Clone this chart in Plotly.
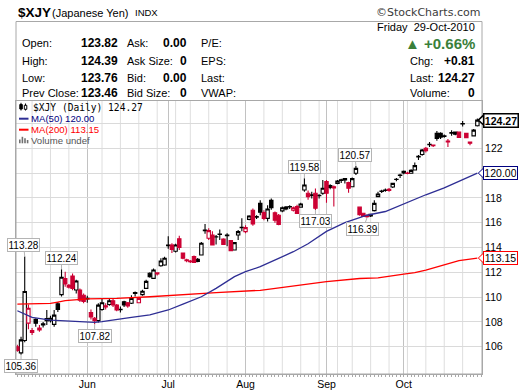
import plotly.graph_objects as go
import pandas as pd

# ---------------- data ----------------
HOLIDAYS = ["2010-05-31", "2010-07-05", "2010-09-06"]
DATES = [d.strftime("%Y-%m-%d") for d in pd.bdate_range("2010-05-04", "2010-10-29")
         if d.strftime("%Y-%m-%d") not in HOLIDAYS]

OPEN = [106.00, 105.50, 106.50, 107.90, 107.30, 108.20, 107.50, 107.75, 108.10, 108.10,
        107.80, 109.45, 110.20, 111.50, 110.80, 111.70, 110.57, 110.57, 110.15, 109.85,
        108.75, 108.30, 108.10, 109.00, 109.30, 109.40, 109.70, 109.36, 108.98, 109.63,
        109.55, 109.50, 110.30, 109.55, 110.20, 110.70, 111.92, 111.51, 111.95, 112.53,
        112.59, 114.15, 114.20, 113.70, 114.70, 113.55, 113.00, 112.90, 113.26, 112.88,
        113.40, 115.35, 114.74, 115.00, 114.85, 115.05, 114.68, 114.95, 114.55, 113.80,
        115.01, 115.60, 115.28, 116.27, 117.00, 116.45, 117.56, 116.81, 116.35, 117.80,
        116.80, 116.60, 116.95, 117.10, 117.30, 117.00, 117.30, 117.25, 118.64, 118.37,
        118.20, 118.37, 118.17, 118.37, 119.31, 119.00, 118.90, 119.17, 119.45, 119.55,
        119.23, 118.90, 119.98, 117.25, 116.76, 116.60, 116.67, 116.97, 118.10, 118.52,
        118.60, 118.70, 118.88, 119.48, 119.80, 120.15, 120.00, 119.98, 120.25, 121.30,
        121.50, 122.00, 122.28, 122.25, 123.20, 123.20, 122.95, 122.58, 123.22, 123.13,
        123.30, 123.95, 123.20, 122.50, 123.00, 123.82]
HIGH = [106.15, 106.80, 113.28, 109.40, 107.50, 108.30, 107.75, 108.00, 108.96, 108.50,
        108.96, 109.60, 112.24, 112.05, 111.05, 111.90, 111.40, 110.70, 110.30, 110.10,
        109.00, 108.40, 109.50, 109.90, 109.50, 109.85, 109.90, 109.45, 109.25, 109.70,
        109.60, 110.15, 110.45, 110.00, 110.60, 111.40, 112.00, 112.30, 112.00, 113.13,
        113.26, 114.90, 114.35, 114.30, 114.95, 113.60, 113.10, 113.00, 113.35, 113.15,
        114.45, 115.90, 115.55, 115.30, 115.00, 115.45, 114.75, 115.15, 114.60, 114.45,
        115.40, 116.35, 115.80, 116.60, 117.15, 116.60, 117.80, 117.00, 117.40, 117.95,
        116.90, 116.70, 117.30, 117.35, 117.40, 117.30, 117.45, 117.60, 119.58, 118.60,
        118.50, 118.75, 118.30, 119.45, 119.45, 119.10, 119.00, 119.45, 119.55, 119.60,
        119.30, 119.65, 120.57, 117.30, 116.80, 116.65, 116.70, 117.80, 118.50, 118.65,
        118.75, 118.80, 119.20, 119.60, 119.95, 120.20, 120.10, 120.30, 120.85, 121.45,
        121.95, 122.10, 122.50, 122.30, 123.40, 123.30, 123.10, 122.75, 123.45, 123.35,
        123.35, 124.20, 123.25, 122.55, 123.55, 124.39]
LOW = [105.60, 105.36, 106.35, 107.40, 106.95, 107.60, 107.20, 107.55, 107.75, 107.95,
       107.60, 108.80, 110.05, 110.84, 110.70, 110.55, 110.30, 109.60, 109.50, 109.55,
       108.20, 107.82, 107.95, 108.90, 109.00, 109.30, 109.20, 108.85, 108.75, 109.20,
       109.15, 109.45, 110.05, 109.50, 110.10, 110.65, 111.55, 111.45, 111.75, 112.45,
       112.53, 113.90, 113.55, 113.60, 113.80, 113.05, 112.80, 112.75, 112.75, 112.80,
       113.35, 115.10, 114.60, 114.15, 114.25, 114.60, 114.20, 114.10, 113.70, 113.75,
       114.60, 115.30, 115.15, 116.20, 115.75, 116.30, 116.60, 116.20, 116.10, 117.05,
       116.00, 115.80, 116.85, 117.00, 117.10, 116.90, 116.70, 117.20, 118.50, 117.85,
       117.95, 117.03, 117.95, 118.25, 117.60, 118.70, 117.30, 119.10, 119.20, 119.15,
       118.42, 118.85, 119.85, 116.55, 116.45, 116.39, 116.45, 116.90, 118.05, 118.40,
       118.50, 118.50, 118.80, 119.35, 119.60, 119.90, 119.90, 119.95, 120.20, 121.05,
       121.40, 121.65, 122.10, 122.10, 122.60, 122.75, 122.85, 122.10, 123.00, 123.05,
       122.85, 123.75, 122.80, 122.25, 122.95, 123.76]
CLOSE = [105.70, 106.55, 110.45, 109.10, 107.15, 107.90, 107.35, 107.85, 108.28, 108.30,
         108.55, 109.00, 111.60, 111.05, 110.95, 110.70, 111.30, 109.76, 109.65, 109.90,
         108.40, 108.10, 109.35, 109.55, 109.20, 109.70, 109.36, 108.96, 109.02, 109.36,
         109.28, 109.90, 110.36, 109.90, 110.47, 111.27, 111.65, 112.19, 111.86, 112.91,
         113.13, 114.20, 113.85, 114.20, 114.00, 113.13, 112.94, 112.86, 112.80, 113.05,
         114.34, 115.41, 115.36, 114.20, 114.87, 115.09, 114.25, 115.00, 113.74, 114.39,
         115.28, 115.63, 115.60, 116.54, 115.90, 116.49, 116.85, 116.35, 117.10, 117.20,
         116.20, 115.85, 117.20, 117.25, 117.26, 117.20, 116.75, 117.50, 119.04, 118.10,
         118.25, 117.17, 118.20, 118.77, 118.37, 118.85, 118.80, 119.36, 119.40, 119.45,
         118.77, 119.55, 120.38, 116.65, 116.50, 116.48, 116.55, 117.56, 118.31, 118.56,
         118.64, 118.60, 119.17, 119.50, 119.83, 120.00, 119.97, 120.22, 120.60, 121.35,
         121.86, 121.80, 122.32, 122.20, 122.80, 122.90, 123.00, 122.50, 123.26, 123.30,
         122.88, 124.00, 122.85, 122.40, 123.46, 124.27]

# moving averages at sample trading days (index into DATES)
MA50_IDX = [0, 4, 9, 13, 17, 21, 23, 27, 31, 36, 41, 45, 50, 54, 59, 62, 66, 71, 75, 79,
            84, 89, 95, 100, 104, 111, 116, 120, 125]
MA50_VAL = [108.90, 108.37, 108.15, 108.10, 108.02, 107.96, 108.02, 108.21, 108.37, 108.56,
            108.96, 109.44, 110.03, 110.70, 111.65, 112.05, 112.45, 113.12, 113.66, 114.30,
            115.30, 116.00, 116.60, 116.90, 117.40, 118.25, 118.80, 119.35, 120.00]
MA200_IDX = [0, 9, 11, 13, 19, 27, 36, 45, 54, 66, 75, 84, 93, 98, 105, 108, 111, 116, 120, 125]
MA200_VAL = [109.44, 109.50, 109.60, 109.71, 109.85, 109.90, 110.03, 110.22, 110.36, 110.55,
             110.89, 111.24, 111.50, 111.55, 111.86, 111.97, 112.18, 112.59, 112.94, 113.15]

# price labels: (trading-day index, "high"/"low")
MARKED = [(2, "high"), (1, "low"), (12, "high"), (21, "low"),
          (78, "high"), (81, "low"), (92, "high"), (95, "low")]
MARK_SHIFT = [-1, 0, 0, 0, 0, 0, -1, -4]

Y_TICKS = [106, 108, 110, 112, 114, 116, 118, 120, 122, 124]

HEADER_LEFT = [("Open:", "123.82", "Ask:", "0.00", "P/E:"),
               ("High:", "124.39", "Ask Size:", "0", "EPS:"),
               ("Low:", "123.76", "Bid:", "0.00", "Last:"),
               ("Prev Close:", "123.46", "Bid Size:", "0", "VWAP:")]
HEADER_RIGHT = [("Chg:", "+0.81"), ("Last:", "124.27"), ("Volume:", "0")]
PCT_CHANGE = "+0.66%"
DATE_TEXT = "Friday\u00a0\u00a029-Oct-2010"

# ---------------- geometry helpers ----------------
W, H = 520, 391
L, R, T, B = 16, 482, 101, 374
XMIN, XMAX = -0.37, 126.26
YMIN, YMAX = 103.8, 125.81
FONT = "Liberation Sans, Arial, sans-serif"
RED = "#CC0033"
BLUE = "#2E2E94"


def px(x):
    return (x - L) / (R - L)


def py(y):
    return (B - y) / (B - T)


def vy(v):
    return (v - YMIN) / (YMAX - YMIN)


n = len(DATES)
X = list(range(n))

# month starts and week starts derived from the dates
dts = pd.to_datetime(DATES)
MONTH_IDX = [j for j in range(1, n) if dts[j].month != dts[j - 1].month]
MONTH_LBL = [dts[j].strftime("%b") for j in MONTH_IDX]
WEEK_IDX = [j for j in range(1, n) if dts[j].weekday() < dts[j - 1].weekday()
            and j not in MONTH_IDX]

# split candles: black if close >= previous close, else red
groups = {"k": {"x": [], "o": [], "h": [], "l": [], "c": []},
          "r": {"x": [], "o": [], "h": [], "l": [], "c": []}}
for j in range(n):
    key = "k" if (j > 0 and CLOSE[j] >= CLOSE[j - 1]) else "r"
    g = groups[key]
    g["x"].append(X[j]); g["o"].append(OPEN[j]); g["h"].append(HIGH[j])
    g["l"].append(LOW[j]); g["c"].append(CLOSE[j])

fig = go.Figure()
fig.add_trace(go.Scatter(x=MA200_IDX, y=MA200_VAL, mode="lines",
                         line=dict(color="#FF0000", width=1.3), hoverinfo="skip"))
fig.add_trace(go.Scatter(x=MA50_IDX, y=MA50_VAL, mode="lines",
                         line=dict(color=BLUE, width=1.3), hoverinfo="skip"))
for key, col in (("k", "#000000"), ("r", RED)):
    g = groups[key]
    fig.add_trace(go.Candlestick(
        x=g["x"], open=g["o"], high=g["h"], low=g["l"], close=g["c"],
        increasing=dict(line=dict(color=col, width=1.1), fillcolor="#FFFFFF"),
        decreasing=dict(line=dict(color=col, width=1.1), fillcolor=col),
        whiskerwidth=0, hoverinfo="none"))

shapes = []
# weekly light gridlines
for j in WEEK_IDX:
    shapes.append(dict(type="line", xref="x", yref="paper", x0=j, x1=j, y0=0, y1=1,
                       line=dict(color="#DEDEDE", width=1), layer="below"))
# header box
shapes.append(dict(type="rect", xref="paper", yref="paper", x0=px(L), x1=px(R),
                   y0=py(B), y1=py(21.5), line=dict(color="#A8A8A8", width=1)))
# legend icons
shapes.append(dict(type="line", xref="paper", yref="paper", x0=px(19), x1=px(28.5),
                   y0=py(118.7), y1=py(118.7), line=dict(color=BLUE, width=2)))
shapes.append(dict(type="line", xref="paper", yref="paper", x0=px(19), x1=px(28.5),
                   y0=py(129.7), y1=py(129.7), line=dict(color="#FF0000", width=2)))
for (x0, x1, ytop) in ((19, 20.6, 139.5), (21.6, 23.2, 136.8), (24.2, 25.8, 138.2), (26.8, 28.4, 140)):
    shapes.append(dict(type="rect", xref="paper", yref="paper", x0=px(x0), x1=px(x1),
                       y0=py(143.3), y1=py(ytop), line=dict(width=0), fillcolor="#707070"))
shapes.append(dict(type="line", xref="paper", yref="paper", x0=px(21), x1=px(21),
                   y0=py(110.5), y1=py(102.8), line=dict(color="black", width=1)))
shapes.append(dict(type="rect", xref="paper", yref="paper", x0=px(19.8), x1=px(22.3),
                   y0=py(109), y1=py(104.5), line=dict(color="black", width=1), fillcolor="black"))
shapes.append(dict(type="line", xref="paper", yref="paper", x0=px(25.5), x1=px(25.5),
                   y0=py(110.5), y1=py(103.5), line=dict(color="black", width=1)))
shapes.append(dict(type="rect", xref="paper", yref="paper", x0=px(24.3), x1=px(26.8),
                   y0=py(109.3), y1=py(105.3), line=dict(color="black", width=1), fillcolor="white"))

ann = []


def txt(x, y, s, anchor="left", size=11, bold=False, color="black", family=FONT):
    ann.append(dict(xref="paper", yref="paper", x=px(x), y=py(y), xanchor=anchor,
                    yanchor="middle", text=(f"<b>{s}</b>" if bold else s), showarrow=False,
                    font=dict(size=size, color=color, family=family)))


# title row
txt(16, 12.5, "<b>$XJY</b>", size=13.5)
txt(49.5, 12.8, "(Japanese Yen)", size=11)
txt(132.5, 12.8, "INDX", size=9.5)
txt(482, 12.5, "\u00a9StockCharts.com", anchor="right", size=11, color="#3C3C3C",
    family="DejaVu Sans, sans-serif")

# header block
rows_y = [43.3, 61.0, 78.3, 93.0]
for (lab, val, lab2, val2, lab3), yy in zip(HEADER_LEFT, rows_y):
    txt(19.5, yy, lab, size=11)
    txt(119.5, yy, val, anchor="right", size=12, bold=True)
    txt(124.5, yy, lab2, size=11)
    txt(189, yy, val2, anchor="right", size=12, bold=True)
    txt(198.5, yy, lab3, size=11)
for (lab, val), yy in zip(HEADER_RIGHT, rows_y[1:]):
    txt(407.5, yy, lab, size=11)
    txt(476.5, yy, val, anchor="right", size=12, bold=True)
txt(476.5, 27.3, DATE_TEXT, anchor="right", size=11)
txt(476.5, 43.3, "\u25b2 " + PCT_CHANGE, anchor="right", size=15, bold=True, color="#3A7F3A")

# chart legend
txt(31, 107.2, f"$XJY (Daily) {CLOSE[-1]:.2f}", size=9.6, family="DejaVu Sans Mono, monospace")
txt(29.3, 118.9, f"MA(50) {MA50_VAL[-1]:.2f}", size=9.6, color="#000080")
txt(29.3, 129.9, f"MA(200) {MA200_VAL[-1]:.2f}", size=9.6, color="#FF0000")
txt(29.3, 140.6, "Volume undef", size=9.6, color="#555555")

# high / low price labels
for (j, kind), sh in zip(MARKED, MARK_SHIFT):
    v = HIGH[j] if kind == "high" else LOW[j]
    ann.append(dict(xref="x", yref="y", x=X[j], y=v, text=f"{v:.2f}", showarrow=True,
                    arrowhead=0, arrowwidth=1, arrowcolor="#B4B4B4", ax=sh,
                    ay=(-11 if kind == "high" else 11.5), bordercolor="#B4B4B4",
                    borderwidth=1, borderpad=0.5, bgcolor="white",
                    font=dict(size=10, color="black", family=FONT)))

# right-hand value tags
TAGS = [(CLOSE[-1], "#000000", True, 1.5),
        (MA50_VAL[-1], "#000080", False, 1),
        (MA200_VAL[-1], "#FF0000", False, 1)]
for v, col, bold, bw in TAGS:
    d = 5.0 / (B - T) * (YMAX - YMIN)
    ann.append(dict(xref="paper", yref="y", x=px(482.8), y=v, xanchor="left", yanchor="middle",
                    text=(f"<b>{v:.2f}</b>" if bold else f"{v:.2f}"), showarrow=False,
                    width=32, height=11, align="center",
                    bordercolor=col, borderwidth=bw, borderpad=0.5, bgcolor="white",
                    font=dict(size=10.5, color="black", family=FONT)))
    shapes.append(dict(type="path", xref="paper", yref="paper",
                       path=f"M {px(478.3)},{vy(v)} L {px(483.6)},{vy(v + d)} L {px(483.6)},{vy(v - d)} Z",
                       line=dict(color=col, width=bw), fillcolor="white"))

# tick labels hidden where a value tag sits on top of them
tag_vals = [t[0] for t in TAGS]
Y_TEXT = ["" if any(abs(t - v) < 0.6 for v in tag_vals) else str(t) for t in Y_TICKS]

fig.update_layout(
    width=W, height=H,
    margin=dict(l=L, r=W - R, t=T, b=H - B, pad=0, autoexpand=False),
    paper_bgcolor="white", plot_bgcolor="white",
    showlegend=False, hovermode=False,
    boxgap=0.08, boxgroupgap=0,
    font=dict(family=FONT, size=10, color="black"),
    shapes=shapes, annotations=ann,
    xaxis=dict(range=[XMIN, XMAX], tickmode="array", tickvals=MONTH_IDX, ticktext=MONTH_LBL,
               showgrid=True, gridcolor="#C2C2C2", gridwidth=1, zeroline=False,
               showline=True, mirror=True, linecolor="#A8A8A8", linewidth=1,
               ticks="", ticklen=0, tickfont=dict(size=10.5, family=FONT), automargin=False,
               minor=dict(dtick=1, tick0=0, ticks="outside", ticklen=2, tickcolor="#A8A8A8",
                          showgrid=False),
               rangeslider=dict(visible=False), fixedrange=True),
    yaxis=dict(range=[YMIN, YMAX], side="right", tickmode="array", tickvals=Y_TICKS,
               ticktext=Y_TEXT, showgrid=True, gridcolor="#DADADA",
               zeroline=False, showline=True, mirror=True, linecolor="#A8A8A8", linewidth=1,
               ticks="", ticklen=0, tickfont=dict(size=10.5, family=FONT), automargin=False,
               fixedrange=True),
)

fig.write_html("out.html", config={"displayModeBar": False, "staticPlot": True},
               post_script="document.body.style.margin='0';document.body.style.overflow='hidden';")
